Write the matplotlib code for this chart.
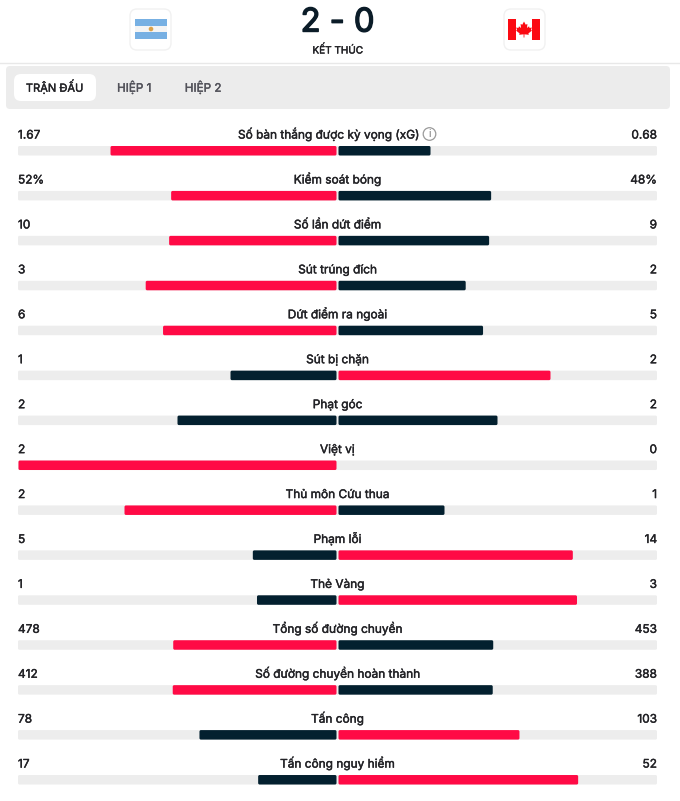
import matplotlib
matplotlib.use('Agg')
import matplotlib.pyplot as plt
import matplotlib.patheffects as pe
from matplotlib.patches import FancyBboxPatch, Rectangle, Circle, Polygon

plt.rcParams['font.family'] = ['Inter', 'DejaVu Sans']

stat_names = ['Số bàn thắng được kỳ vọng (xG)', 'Kiểm soát bóng', 'Số lần dứt điểm', 'Sút trúng đích',
              'Dứt điểm ra ngoài', 'Sút bị chặn', 'Phạt góc', 'Việt vị', 'Thủ môn Cứu thua', 'Phạm lỗi',
              'Thẻ Vàng', 'Tổng số đường chuyền', 'Số đường chuyền hoàn thành', 'Tấn công', 'Tấn công nguy hiểm']
home_values = [1.67, 52, 10, 3, 6, 1, 2, 2, 2, 5, 1, 478, 412, 78, 17]
away_values = [0.68, 48, 9, 2, 5, 2, 2, 0, 1, 14, 3, 453, 388, 103, 52]
home_labels = ['1.67', '52%', '10', '3', '6', '1', '2', '2', '2', '5', '1', '478', '412', '78', '17']
away_labels = ['0.68', '48%', '9', '2', '5', '2', '2', '0', '1', '14', '3', '453', '388', '103', '52']
tab_labels = ['TRẬN ĐẤU', 'HIỆP 1', 'HIỆP 2']
score_text = '2 - 0'
status_text = 'KẾT THÚC'

RED = '#ff0a45'
DARK = '#03202f'
TRACK = '#ededed'
TEXT = '#222226'

fig = plt.figure(figsize=(6.8, 8.01), dpi=100)
ax = fig.add_axes([0, 0, 1, 1])
ax.set_xlim(0, 680)
ax.set_ylim(801, 0)
ax.axis('off')


def rbox(x, y, w, h, r, color, ec='none', z=1, lw=1):
    p = FancyBboxPatch((x + r, y + r), w - 2 * r, h - 2 * r, boxstyle=f'round,pad={r},rounding_size={r}',
                       fc=color, ec=ec, lw=lw, zorder=z, mutation_aspect=1)
    ax.add_patch(p)


def label(x, y, s, size=8.55, ha='center', color=TEXT, bold=0.3, z=3):
    # Inter only comes in one weight here, a thin stroke makes it look medium
    t = ax.text(x, y, s, ha=ha, va='baseline', fontsize=size, color=color, zorder=z)
    t.set_path_effects([pe.withStroke(linewidth=bold, foreground=color)])
    return t


# header
rbox(130, 9, 41, 41, 7, 'white', ec='#f1f1f1')
rbox(504, 9, 41, 41, 7, 'white', ec='#f1f1f1')
ax.add_patch(Rectangle((135, 19), 32, 20, fc='#f4f4f4', zorder=2))
ax.add_patch(Rectangle((135, 19), 32, 6.7, fc='#77b0e3', zorder=3))
ax.add_patch(Rectangle((135, 32.3), 32, 6.7, fc='#77b0e3', zorder=3))
ax.add_patch(Circle((151, 29), 2.3, fc='#dca24a', zorder=4))

ax.add_patch(Rectangle((508, 18.5), 32, 21.5, fc='white', zorder=2))
ax.add_patch(Rectangle((508, 18.5), 8, 21.5, fc='#fb0a12', zorder=3))
ax.add_patch(Rectangle((532, 18.5), 8, 21.5, fc='#fb0a12', zorder=3))
leaf = [(524, 21.5), (525.7, 24.7), (527.4, 24), (527, 28), (529, 26.3), (529.6, 28), (531.8, 27.5), (531, 30),
        (532, 30.6), (528.4, 33.4), (528.8, 34.8), (524.4, 34.3), (524.4, 37.5), (523.6, 37.5), (523.6, 34.3),
        (519.2, 34.8), (519.6, 33.4), (516, 30.6), (517, 30), (516.2, 27.5), (518.4, 28), (519, 26.3), (521, 28),
        (520.6, 24), (522.3, 24.7)]
ax.add_patch(Polygon(leaf, fc='#fb0a12', ec='none', zorder=4))

label(337.5, 31.5, score_text, size=23.5, color='#0b1c28', bold=1.0)
label(337.5, 53.5, status_text, size=7.2)
ax.plot([0, 680], [62.5, 62.5], color='#e8e8e8', lw=1, zorder=1)

# tabs
rbox(6, 66, 664, 43, 4, '#ececec')
rbox(14, 74, 82, 27, 7, 'white', z=2)
for tab, x, size, col in zip(tab_labels, [54.5, 134, 203], [8, 8.4, 8.4], [TEXT, '#52525a', '#52525a']):
    label(x, 91.7, tab, size=size, color=col)

# stat rows
half_width = 318
center = 337.5
for i, name in enumerate(stat_names):
    base_y = 138.6 + i * 44.93
    bar_y = 146 + i * 44.93
    h, a = home_values[i], away_values[i]
    total = h + a
    label(18, base_y, home_labels[i], ha='left')
    label(657, base_y, away_labels[i], ha='right')
    label(center - (9 if i == 0 else 0), base_y, name)
    rbox(18, bar_y, 639, 9.5, 1.5, TRACK)
    home_w = half_width * h / total
    away_w = half_width * a / total
    home_col = RED if h > a else DARK
    away_col = RED if a > h else DARK
    if home_w > 0:
        rbox(center - 1 - home_w, bar_y, home_w, 9.5, 1.5, home_col, z=2)
    if away_w > 0:
        rbox(center + 1, bar_y, away_w, 9.5, 1.5, away_col, z=2)

# info icon next to xG
ax.add_patch(Circle((429.5, 134), 6.3, fc='white', ec='#9a9a9a', lw=0.9, zorder=3))
ax.text(429.5, 134.3, 'i', ha='center', va='center', fontsize=7.5, color='#777777', zorder=4)

fig.savefig('out.png', dpi=100)
